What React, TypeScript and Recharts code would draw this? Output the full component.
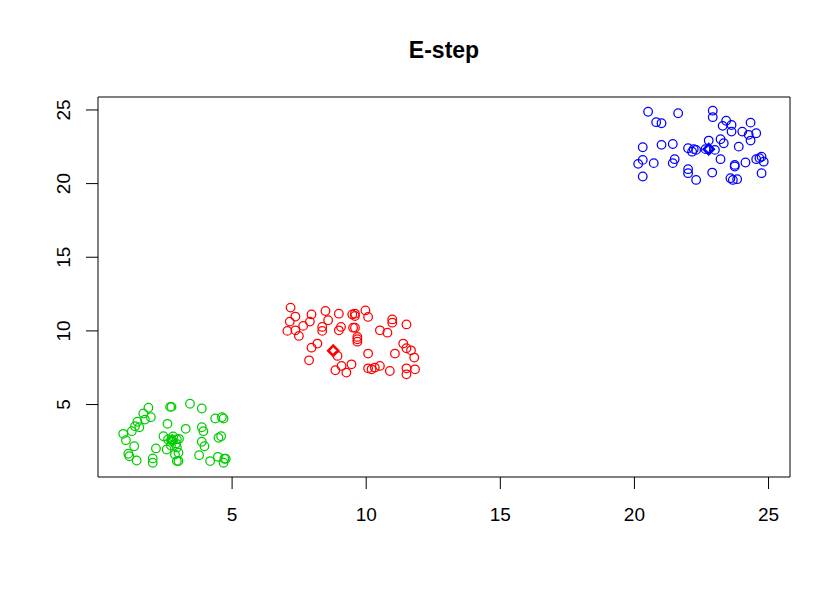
import React from "react";
import { ScatterChart, Scatter, XAxis, YAxis, ReferenceArea } from "recharts";

// cluster points: [x, y]
const greenPoints = [
  [1.88, 4.78], [2.69, 4.84], [2.74, 4.84], [1.69, 4.39], [1.97, 4.14], [1.75, 3.98],
  [1.47, 3.83], [1.38, 3.53], [1.54, 3.46], [2.59, 3.69], [1.26, 3.19], [0.94, 3.01],
  [1.04, 2.58], [2.44, 2.85], [2.61, 2.63], [2.8, 2.83], [2.91, 2.36], [2.72, 2.22],
  [1.35, 2.17], [2.16, 2.02], [2.56, 1.95], [2.94, 2.08], [1.13, 1.66], [1.17, 1.49],
  [1.44, 1.2], [2.04, 1.34], [2.04, 1.05], [2.87, 1.61], [2.94, 1.16], [3.43, 5.05],
  [3.87, 4.73], [4.37, 4.05], [4.62, 4.14], [4.68, 4.05], [3.27, 3.35], [3.87, 3.46],
  [3.93, 3.19], [4.49, 2.74], [4.59, 2.85], [3.02, 2.67], [2.94, 2.63], [3.87, 2.47],
  [3.97, 2.17], [3.0, 1.73], [3.77, 1.56], [3.0, 1.16], [4.18, 1.16], [4.47, 1.45],
  [4.71, 1.32], [4.68, 1.05], [4.76, 1.32],
];

const redPoints = [
  [7.18, 11.58], [7.36, 10.97], [7.96, 11.12], [8.48, 11.35], [8.98, 11.17], [9.48, 11.12],
  [7.15, 10.63], [7.65, 10.34], [7.9, 10.63], [8.58, 10.72], [7.06, 10.0], [7.36, 10.04],
  [7.49, 9.66], [8.36, 10.27], [8.36, 10.0], [9.06, 10.27], [8.98, 10.04], [9.51, 10.22],
  [8.18, 9.14], [7.96, 8.86], [8.93, 8.3], [7.87, 8.0], [9.08, 7.62], [8.85, 7.33],
  [9.26, 7.17], [9.45, 7.73], [9.58, 11.17], [9.58, 11.01], [9.97, 11.39], [10.07, 10.95],
  [10.97, 10.78], [10.97, 10.56], [11.5, 10.44], [9.58, 10.22], [10.51, 10.04], [10.79, 9.88],
  [9.67, 9.59], [9.67, 9.43], [9.67, 9.27], [11.38, 9.14], [11.5, 8.82], [11.67, 8.68],
  [10.07, 8.46], [11.07, 8.46], [11.79, 8.19], [10.07, 7.46], [10.2, 7.39], [10.32, 7.51],
  [10.51, 7.62], [10.88, 7.28], [11.5, 7.46], [11.5, 7.05], [11.82, 7.39],
];

const bluePoints = [
  [20.51, 24.88], [21.63, 24.78], [20.81, 24.17], [21.01, 24.1], [20.31, 22.47], [21.01, 22.63],
  [21.43, 22.69], [22.0, 22.4], [22.15, 22.17], [22.3, 22.29], [22.21, 22.34], [20.31, 21.61],
  [20.14, 21.34], [20.72, 21.39], [21.5, 21.66], [21.43, 21.39], [22.0, 20.98], [22.0, 20.71],
  [22.3, 20.25], [20.31, 20.48], [22.92, 24.95], [22.92, 24.51], [23.42, 24.27], [23.29, 23.92],
  [23.62, 23.98], [23.62, 23.53], [24.33, 24.14], [24.02, 23.53], [24.26, 23.31], [24.33, 22.92],
  [24.54, 23.42], [22.77, 22.92], [23.21, 23.01], [23.33, 22.74], [22.65, 22.34], [23.0, 22.29],
  [23.89, 22.51], [23.21, 21.66], [23.74, 21.27], [23.74, 21.16], [24.14, 21.43], [24.54, 21.66],
  [24.66, 21.73], [24.74, 21.83], [24.82, 21.49], [22.9, 20.75], [23.58, 20.37], [23.67, 20.25],
  [23.83, 20.3], [24.74, 20.71],
];

// cluster means (diamonds)
const centerX = [2.76, 8.77, 22.77];
const centerY = [2.56, 8.66, 22.34];
const colors = ["#00cd00", "#ff0000", "#0000ff"];

const xTicks = [5, 10, 15, 20, 25];
const yTicks = [5, 10, 15, 20, 25];

const FONT = "'Liberation Sans', Arial, sans-serif";

const toRows = (pts: number[][]) => pts.map(([x, y]) => ({ x, y }));

const circleShape = (color: string) => (props: any) => (
  <circle cx={props.cx} cy={props.cy} r={4.3} fill="none" stroke={color} strokeWidth={1.25} />
);

const diamondShape = (props: any) => {
  const { cx, cy, payload } = props;
  const s = 5;
  return (
    <polygon
      points={`${cx},${cy - s} ${cx + s},${cy} ${cx},${cy + s} ${cx - s},${cy}`}
      fill="none"
      stroke={payload.color}
      strokeWidth={2.6}
    />
  );
};

const XTick = (props: any) => (
  <text x={props.x} y={props.y + 32} textAnchor="middle" fontSize={19} fontFamily={FONT} fill="#000">
    {props.payload.value}
  </text>
);

const YTick = (props: any) => {
  const x = props.x - 16;
  return (
    <text
      x={x}
      y={props.y}
      transform={`rotate(-90, ${x}, ${props.y})`}
      textAnchor="middle"
      fontSize={19}
      fontFamily={FONT}
      fill="#000"
    >
      {props.payload.value}
    </text>
  );
};

export default function App() {
  const centers = centerX.map((x, i) => ({ x, y: centerY[i], color: colors[i] }));

  return (
    <div style={{ position: "absolute", left: 0, top: 0, width: 840, height: 600, background: "#fff" }}>
      <svg width={840} height={600} style={{ position: "absolute", left: 0, top: 0 }}>
        <text x={444} y={58} textAnchor="middle" fontSize={23} fontWeight="bold" fontFamily={FONT} fill="#000">
          E-step
        </text>
      </svg>
      <div style={{ position: "absolute", left: 0, top: 0 }}>
        <ScatterChart width={840} height={600} margin={{ top: 97, right: 50, bottom: 63, left: 0 }}>
          <XAxis
            type="number"
            dataKey="x"
            domain={[0, 25.8]}
            ticks={xTicks}
            tickSize={12}
            tickMargin={0}
            height={60}
            axisLine={false}
            tickLine={{ stroke: "#000" }}
            tick={<XTick />}
          />
          <YAxis
            type="number"
            dataKey="y"
            domain={[0.08, 25.88]}
            ticks={yTicks}
            tickSize={12}
            tickMargin={0}
            width={98}
            axisLine={false}
            tickLine={{ stroke: "#000" }}
            tick={<YTick />}
          />
          <ReferenceArea x1={0} x2={25.8} y1={0.08} y2={25.88} fill="none" stroke="#000" strokeWidth={1} />
          <Scatter data={toRows(greenPoints)} shape={circleShape(colors[0])} isAnimationActive={false} />
          <Scatter data={toRows(redPoints)} shape={circleShape(colors[1])} isAnimationActive={false} />
          <Scatter data={toRows(bluePoints)} shape={circleShape(colors[2])} isAnimationActive={false} />
          <Scatter data={centers} shape={diamondShape} isAnimationActive={false} />
        </ScatterChart>
      </div>
    </div>
  );
}
